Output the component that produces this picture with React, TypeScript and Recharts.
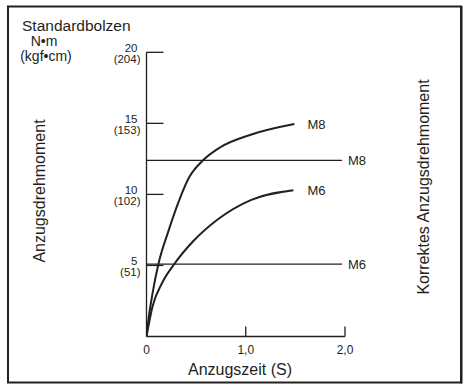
import React from 'react';
import { ComposedChart, Line, XAxis, YAxis, LabelList } from 'recharts';

// ---- data ----
const timeTicks = [0, 1, 2];
const timeTickLabels = ['0', '1,0', '2,0'];
const torqueTicks = [0, 5, 10, 15, 20];
const torqueNm = ['', '5', '10', '15', '20'];
const torqueKgf = ['', '(51)', '(102)', '(153)', '(204)'];

const m8Curve = [
  { t: 0, v: 0 },
  { t: 0.02, v: 1.2 },
  { t: 0.06, v: 3.0 },
  { t: 0.12, v: 5.1 },
  { t: 0.22, v: 7.4 },
  { t: 0.33, v: 9.6 },
  { t: 0.43, v: 11.2 },
  { t: 0.57, v: 12.4 },
  { t: 0.74, v: 13.3 },
  { t: 1.05, v: 14.2 },
  { t: 1.49, v: 14.95 },
];
const m6Curve = [
  { t: 0, v: 0 },
  { t: 0.06, v: 2.1 },
  { t: 0.16, v: 3.8 },
  { t: 0.28, v: 5.1 },
  { t: 0.47, v: 6.7 },
  { t: 0.71, v: 8.2 },
  { t: 1.05, v: 9.6 },
  { t: 1.48, v: 10.3 },
];
const correctM8 = [
  { t: 0, v: 12.4 },
  { t: 1.97, v: 12.4 },
];
const correctM6 = [
  { t: 0, v: 5.1 },
  { t: 1.97, v: 5.1 },
];
const curveLabels = ['M8', 'M6'];
const lineLabels = ['M8', 'M6'];

const INK = '#231f20';
const FONT = '"Liberation Sans", Arial, sans-serif';

const YTick = (props: any) => {
  const { x, y, index } = props;
  if (!index) return null;
  return (
    <g>
      <line x1={x} y1={y} x2={x + 17} y2={y} stroke={INK} strokeWidth={1.3} />
      <text x={x - 9} y={y - 0.5} textAnchor="end" fontSize={11.5} fill={INK} fontFamily={FONT}>
        {torqueNm[index]}
      </text>
      <text x={x - 6} y={y + 11} textAnchor="end" fontSize={11.5} fill={INK} fontFamily={FONT}>
        {torqueKgf[index]}
      </text>
    </g>
  );
};

const XTick = (props: any) => {
  const { x, y, index } = props;
  return (
    <g>
      {index > 0 && <line x1={x} y1={y - 10} x2={x} y2={y} stroke={INK} strokeWidth={1.3} />}
      <text x={x} y={y + 17.5} textAnchor="middle" fontSize={12} fill={INK} fontFamily={FONT}>
        {timeTickLabels[index]}
      </text>
    </g>
  );
};

const endLabel = (text: string, n: number, dx: number) => (p: any) => {
  if (p.index !== n - 1) return null;
  return (
    <text x={p.x + dx} y={p.y + 4.5} fontSize={13} fill={INK} fontFamily={FONT}>
      {text}
    </text>
  );
};

export default function App() {
  return (
    <div style={{ position: 'absolute', left: 0, top: 0, width: 464, height: 385, background: '#fff' }}>
      <ComposedChart
        width={464}
        height={385}
        margin={{ top: 52.3, right: 119, bottom: 18.5, left: 86.5 }}
      >
        <XAxis
          type="number"
          dataKey="t"
          domain={[0, 2]}
          ticks={timeTicks}
          allowDataOverflow
          height={30}
          tickSize={0}
          tickMargin={0}
          tickLine={false}
          axisLine={{ stroke: INK, strokeWidth: 1.3 }}
          tick={<XTick />}
          interval={0}
        />
        <YAxis
          type="number"
          dataKey="v"
          domain={[0, 20]}
          ticks={torqueTicks}
          width={60}
          tickSize={0}
          tickMargin={0}
          tickLine={false}
          axisLine={{ stroke: INK, strokeWidth: 1.3 }}
          tick={<YTick />}
          interval={0}
        />
        <Line data={correctM8} dataKey="v" type="linear" stroke={INK} strokeWidth={1.3} dot={false} isAnimationActive={false}>
          <LabelList dataKey="v" content={endLabel(lineLabels[0], correctM8.length, 6)} />
        </Line>
        <Line data={correctM6} dataKey="v" type="linear" stroke={INK} strokeWidth={1.3} dot={false} isAnimationActive={false}>
          <LabelList dataKey="v" content={endLabel(lineLabels[1], correctM6.length, 6)} />
        </Line>
        <Line data={m8Curve} dataKey="v" type="monotone" stroke={INK} strokeWidth={2} dot={false} isAnimationActive={false}>
          <LabelList dataKey="v" content={endLabel(curveLabels[0], m8Curve.length, 13)} />
        </Line>
        <Line data={m6Curve} dataKey="v" type="monotone" stroke={INK} strokeWidth={2} dot={false} isAnimationActive={false}>
          <LabelList dataKey="v" content={endLabel(curveLabels[1], m6Curve.length, 14)} />
        </Line>
      </ComposedChart>
      <svg
        width={464}
        height={385}
        style={{ position: 'absolute', left: 0, top: 0, pointerEvents: 'none' }}
        fontFamily={FONT}
        fill={INK}
      >
        <rect x={8} y={6.5} width={453} height={376} fill="none" stroke={INK} strokeWidth={2} />
        <line x1={461.5} y1={6} x2={461.5} y2={383.5} stroke={INK} strokeWidth={2} />
        <text x={22} y={30.5} fontSize={15.5}>Standardbolzen</text>
        <text x={44} y={46} fontSize={14} textAnchor="middle">N•m</text>
        <text x={46} y={61} fontSize={14} textAnchor="middle">(kgf•cm)</text>
        <text
          x={39}
          y={191}
          fontSize={16}
          textAnchor="middle"
          dominantBaseline="central"
          transform="rotate(-90 39 191)"
        >
          Anzugsdrehmoment
        </text>
        <text
          x={423}
          y={187}
          fontSize={16}
          textAnchor="middle"
          dominantBaseline="central"
          transform="rotate(-90 423 187)"
        >
          Korrektes Anzugsdrehmoment
        </text>
        <text x={240} y={375} fontSize={16} textAnchor="middle">Anzugszeit (S)</text>
      </svg>
    </div>
  );
}
